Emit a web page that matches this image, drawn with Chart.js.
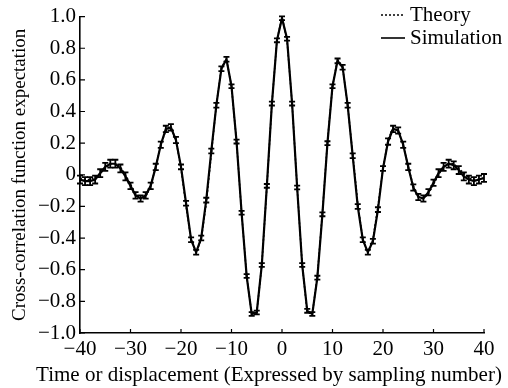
<!DOCTYPE html>
<html>
<head>
<meta charset="utf-8">
<script src="https://cdn.jsdelivr.net/npm/chart.js@4.4.1/dist/chart.umd.min.js"></script>
<style>
  html, body { margin: 0; padding: 0; background: #fff; }
  canvas { display: block; }
</style>
</head>
<body>
<canvas id="myChart" width="508" height="388"></canvas>
<script>
// lag values (sampling number)
const lags = [-40, -39, -38, -37, -36, -35, -34, -33, -32, -31,
    -30, -29, -28, -27, -26, -25, -24, -23, -22, -21,
    -20, -19, -18, -17, -16, -15, -14, -13, -12, -11,
    -10, -9, -8, -7, -6, -5, -4, -3, -2, -1,
    0, 1, 2, 3, 4, 5, 6, 7, 8, 9,
    10, 11, 12, 13, 14, 15, 16, 17, 18, 19,
    20, 21, 22, 23, 24, 25, 26, 27, 28, 29,
    30, 31, 32, 33, 34, 35, 36, 37, 38, 39, 40];

const simulation = [-0.03, -0.04, -0.04, -0.03, 0.01, 0.05, 0.07, 0.07, 0.04, -0.01,
    -0.07, -0.13, -0.15, -0.13, -0.07, 0.05, 0.19, 0.29, 0.30, 0.22,
    0.05, -0.18, -0.41, -0.49, -0.40, -0.16, 0.15, 0.44, 0.67, 0.73,
    0.56, 0.21, -0.24, -0.64, -0.88, -0.87, -0.57, -0.07, 0.45, 0.85,
    0.99, 0.86, 0.45, -0.08, -0.57, -0.86, -0.88, -0.65, -0.25, 0.20,
    0.56, 0.72, 0.68, 0.44, 0.12, -0.20, -0.41, -0.49, -0.42, -0.22,
    0.04, 0.21, 0.29, 0.28, 0.19, 0.05, -0.08, -0.14, -0.15, -0.11,
    -0.05, 0.01, 0.05, 0.07, 0.06, 0.03, -0.01, -0.03, -0.04, -0.03, -0.02];

const theory = [-0.02, -0.03, -0.03, -0.02, 0.01, 0.04, 0.07, 0.07, 0.05, 0.00,
    -0.06, -0.12, -0.15, -0.14, -0.07, 0.05, 0.19, 0.28, 0.30, 0.22,
    0.04, -0.20, -0.41, -0.49, -0.41, -0.18, 0.13, 0.44, 0.68, 0.73,
    0.56, 0.21, -0.24, -0.64, -0.88, -0.87, -0.57, -0.08, 0.45, 0.85,
    1.00, 0.85, 0.45, -0.08, -0.57, -0.87, -0.88, -0.64, -0.24, 0.21,
    0.56, 0.73, 0.68, 0.44, 0.13, -0.18, -0.41, -0.49, -0.41, -0.20,
    0.04, 0.22, 0.30, 0.28, 0.19, 0.05, -0.07, -0.14, -0.15, -0.12,
    -0.06, 0.00, 0.05, 0.07, 0.07, 0.04, 0.01, -0.02, -0.03, -0.03, -0.02];

// half-length of each error bar
const errors = [0.025, 0.025, 0.025, 0.025, 0.025, 0.025, 0.025, 0.025, 0.025, 0.025,
    0.02, 0.02, 0.02, 0.02, 0.02, 0.02, 0.02, 0.02, 0.02, 0.02,
    0.015, 0.015, 0.015, 0.015, 0.015, 0.015, 0.015, 0.015, 0.015, 0.015,
    0.012, 0.012, 0.012, 0.012, 0.012, 0.012, 0.012, 0.012, 0.012, 0.012,
    0.012, 0.012, 0.012, 0.012, 0.012, 0.012, 0.012, 0.012, 0.012, 0.012,
    0.012, 0.015, 0.015, 0.015, 0.015, 0.015, 0.015, 0.015, 0.015, 0.015,
    0.015, 0.02, 0.02, 0.02, 0.02, 0.02, 0.02, 0.02, 0.02, 0.02,
    0.02, 0.025, 0.025, 0.025, 0.025, 0.025, 0.025, 0.025, 0.025, 0.025, 0.025];

const xTicks = [-40, -30, -20, -10, 0, 10, 20, 30, 40];
const yTicks = [-1.0, -0.8, -0.6, -0.4, -0.2, 0, 0.2, 0.4, 0.6, 0.8, 1.0];
const xTitle = 'Time or displacement (Expressed by sampling number)';

const FONT = "'Liberation Serif', 'Times New Roman', serif";

function minus(s) {
    return String(s).replace('-', '\u2212');
}

const errorBars = {
    id: 'errorBars',
    afterDatasetsDraw(chart) {
        const { ctx, scales: { x, y } } = chart;
        ctx.save();
        ctx.strokeStyle = '#000';
        ctx.lineWidth = 1.8;
        lags.forEach((lag, i) => {
            const px = x.getPixelForValue(lag);
            const top = y.getPixelForValue(simulation[i] + errors[i]);
            const bot = y.getPixelForValue(simulation[i] - errors[i]);
            ctx.beginPath();
            ctx.moveTo(px, top); ctx.lineTo(px, bot);
            ctx.moveTo(px - 3, top); ctx.lineTo(px + 3, top);
            ctx.moveTo(px - 3, bot); ctx.lineTo(px + 3, bot);
            ctx.stroke();
        });
        ctx.restore();
    }
};

// axis ticks pointing into the plot
const innerTicks = {
    id: 'innerTicks',
    afterDraw(chart) {
        const { ctx, chartArea, scales: { x, y } } = chart;
        ctx.save();
        ctx.strokeStyle = '#000';
        ctx.lineWidth = 1.2;
        ctx.beginPath();
        xTicks.forEach(v => {
            const px = x.getPixelForValue(v);
            ctx.moveTo(px, chartArea.bottom);
            ctx.lineTo(px, chartArea.bottom - 4);
        });
        yTicks.forEach(v => {
            const py = y.getPixelForValue(v);
            ctx.moveTo(chartArea.left, py);
            ctx.lineTo(chartArea.left + 5, py);
        });
        ctx.stroke();
        ctx.restore();
    }
};

// legend and x title drawn by hand (the title is wider than the axis)
const textBits = {
    id: 'textBits',
    afterDraw(chart) {
        const ctx = chart.ctx;
        ctx.save();
        ctx.strokeStyle = '#000';
        ctx.fillStyle = '#000';
        ctx.font = '21px ' + FONT;
        ctx.textBaseline = 'middle';
        ctx.lineWidth = 1.6;
        ctx.setLineDash([2, 2]);
        ctx.beginPath(); ctx.moveTo(381, 15); ctx.lineTo(405, 15); ctx.stroke();
        ctx.setLineDash([]);
        ctx.beginPath(); ctx.moveTo(381, 38); ctx.lineTo(405, 38); ctx.stroke();
        ctx.fillText('Theory', 410, 15);
        ctx.fillText('Simulation', 410, 38);

        ctx.textAlign = 'center';
        ctx.fillText(xTitle, 269, 375);
        ctx.restore();
    }
};

const ctx = document.getElementById('myChart').getContext('2d');
const chart = new Chart(ctx, {
    type: 'line',
    data: {
        labels: lags,
        datasets: [{
            label: 'Theory',
            data: lags.map((lag, i) => ({ x: lag, y: theory[i] })),
            borderColor: '#000',
            borderWidth: 1.5,
            borderDash: [2, 2],
            pointRadius: 0,
            fill: false,
            tension: 0
        }, {
            label: 'Simulation',
            data: lags.map((lag, i) => ({ x: lag, y: simulation[i] })),
            borderColor: '#000',
            borderWidth: 2.2,
            pointRadius: 0,
            fill: false,
            tension: 0
        }]
    },
    options: {
        responsive: false,
        animation: false,
        devicePixelRatio: 1,
        layout: {
            padding: { left: 0, right: 24, top: 16, bottom: 0 }
        },
        scales: {
            x: {
                type: 'linear',
                min: -40,
                max: 40,
                afterBuildTicks: function (scale) {
                    scale.ticks = xTicks.map(v => ({ value: v }));
                },
                afterFit: function (scale) {
                    scale.height = 55;
                },
                grid: { display: false, drawTicks: false },
                border: { display: true, color: '#000', width: 1.6 },
                ticks: {
                    color: '#000',
                    padding: 4,
                    maxRotation: 0,
                    font: { family: FONT, size: 21 },
                    callback: function (value) {
                        return minus(value);
                    }
                },
                title: { display: false }
            },
            y: {
                min: -1,
                max: 1,
                afterBuildTicks: function (scale) {
                    scale.ticks = yTicks.map(v => ({ value: v }));
                },
                afterFit: function (scale) {
                    scale.width = 80;
                },
                grid: { display: false, drawTicks: false },
                border: { display: true, color: '#000', width: 1.6 },
                ticks: {
                    color: '#000',
                    padding: 4,
                    font: { family: FONT, size: 21 },
                    callback: function (value) {
                        if (Math.abs(value) < 1e-9) return '0';
                        return minus(value.toFixed(1));
                    }
                },
                title: {
                    display: true,
                    text: 'Cross-correlation function expectation',
                    color: '#000',
                    font: { family: FONT, size: 19 },
                    padding: { top: 9, bottom: 0 }
                }
            }
        },
        plugins: {
            legend: { display: false },
            tooltip: { enabled: false }
        }
    },
    plugins: [errorBars, innerTicks, textBits]
});
</script>
</body>
</html>
